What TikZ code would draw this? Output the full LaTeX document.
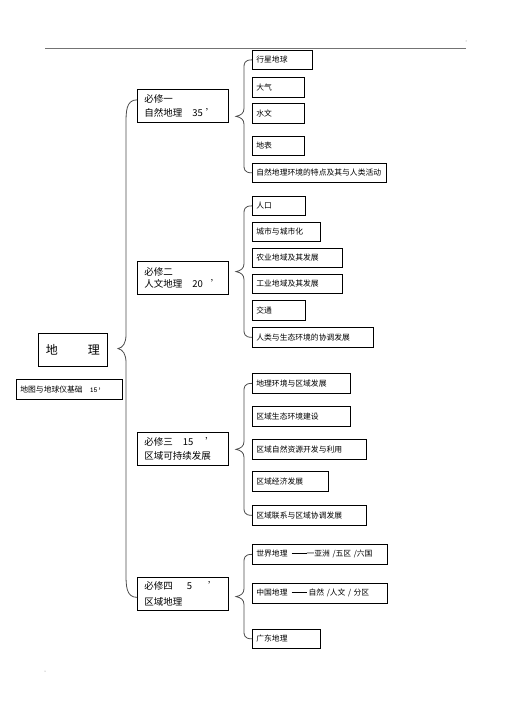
\documentclass[tikz,border=0pt]{standalone}
\usepackage{fontspec}
\setmainfont{Noto Sans CJK SC}
\usepackage{tikz}
\usetikzlibrary{calc}

% curly brace: top end, bottom end, depth, end radius, tip radius
\newcommand{\brc}[5]{%
  \draw[line] (#1) .. controls +(-#3,0) and +(0,-#4/2) .. ($(#1)+(-#3,#4)$)
    -- ($(#1)!0.5!(#2)+(-#3,-#5)$)
    .. controls +(0,0.6*#5) and +(5,-1) .. ($(#1)!0.5!(#2)+(-#3-8,0)$)
    .. controls +(5,1) and +(0,-0.6*#5) .. ($(#1)!0.5!(#2)+(-#3,#5)$)
    -- ($(#2)+(-#3,-#4)$) .. controls +(0,#4/2) and +(-#3,0) .. (#2);}
\newcommand{\dashbar}{\hspace{4pt}\rule[2.6pt]{15pt}{1pt}}

\begin{document}
\begin{tikzpicture}[x=1pt,y=-1pt]
        \tikzset{line/.style={line width=0.8pt, black!70}};
        \tikzset{box/.style={draw=black, line width=0.7pt, anchor=north west, inner ysep=0pt, align=left}};
        \tikzset{leaf/.style={box, inner xsep=4pt, font=\fontsize{7.8}{9}\selectfont}};
        \tikzset{mod/.style={box, inner xsep=7pt, text width=77pt, minimum height=33pt, font=\fontsize{9.5}{14}\selectfont}};

        \useasboundingbox (0,0) rectangle (505,714);
        \draw[black!55, line width=0.6pt] (45,48) -- (466,48);
        \fill[black!50] (466,41) circle (0.5);
        \fill[black!50] (45,671) circle (0.5);

        % root
        \node[box, inner xsep=0pt, minimum width=69pt, minimum height=33pt, font=\fontsize{12}{14}\selectfont] (dl) at (38,333) {地\hspace{30pt}理};
        \node[leaf, text width=98pt, minimum height=20pt] (jc) at (16,379) {地图与地球仪基础\hspace{7pt}{\ttfamily\bfseries\fontsize{7.5}{8}\selectfont 15’}};

        % modules
        \node[mod] (m1) at (137,89) {必修一\\自然地理\hspace{10pt}35\hspace{3pt}’};
        \node[mod, font=\fontsize{9.5}{12}\selectfont] (m2) at (137,261) {必修二\\人文地理\hspace{10pt}20\hspace{8pt}’};
        \node[mod] (m3) at (137,432) {必修三\hspace{10pt}15\hspace{12pt}’\\区域可持续发展};
        \node[mod, font=\fontsize{9.5}{16}\selectfont] (m4) at (137,577) {必修四\hspace{14pt}5\hspace{16pt}’\\区域地理};

        % 必修一
        \node[leaf, text width=52pt, minimum height=19pt] (a1) at (252,50) {行星地球};
        \node[leaf, text width=44pt, minimum height=20pt] (a2) at (252,77) {大气};
        \node[leaf, text width=44pt, minimum height=20pt] (a3) at (252,103) {水文};
        \node[leaf, text width=44pt, minimum height=19pt] (a4) at (252,136) {地表};
        \node[leaf, text width=126pt, minimum height=19pt] (a5) at (252,163) {自然地理环境的特点及其与人类活动};

        % 必修二
        \node[leaf, text width=45pt, minimum height=19pt] (b1) at (252,196) {人口};
        \node[leaf, text width=60pt, minimum height=19pt] (b2) at (252,222) {城市与城市化};
        \node[leaf, text width=82pt, minimum height=19pt] (b3) at (252,248) {农业地域及其发展};
        \node[leaf, text width=82pt, minimum height=19pt] (b4) at (252,274) {工业地域及其发展};
        \node[leaf, text width=45pt, minimum height=20pt] (b5) at (252,300) {交通};
        \node[leaf, text width=113pt, minimum height=20pt] (b6) at (252,327) {人类与生态环境的协调发展};

        % 必修三
        \node[leaf, text width=90pt, minimum height=20pt] (c1) at (252,373) {地理环境与区域发展};
        \node[leaf, text width=90pt, minimum height=20pt] (c2) at (252,406) {区域生态环境建设};
        \node[leaf, text width=106pt, minimum height=20pt] (c3) at (252,439) {区域自然资源开发与利用};
        \node[leaf, text width=68pt, minimum height=20pt] (c4) at (252,471) {区域经济发展};
        \node[leaf, text width=106pt, minimum height=20pt] (c5) at (252,505) {区域联系与区域协调发展};

        % 必修四
        \node[leaf, text width=127pt, minimum height=20pt] (d1) at (252,544) {世界地理\dashbar 一亚洲 /五区 /六国};
        \node[leaf, text width=127pt, minimum height=20pt] (d2) at (252,583) {中国地理\dashbar\hspace{2pt}自然 /人文 / 分区};
        \node[leaf, text width=60pt, minimum height=19pt] (d3) at (252,629) {广东地理};

        % braces
        \coordinate (t1) at ($(m1.west)+(0,-6)$);
        \coordinate (t4) at ($(m4.west)+(0,3.5)$);
        \brc{t1}{t4}{11}{24}{14}
        \brc{a1.west}{a5.west}{8}{8}{8}
        \brc{b1.west}{b6.west}{8}{8}{8}
        \brc{c1.west}{c5.west}{8}{8}{8}
        \brc{d1.west}{d3.west}{8}{8}{8}
    \end{tikzpicture}
\end{document}
